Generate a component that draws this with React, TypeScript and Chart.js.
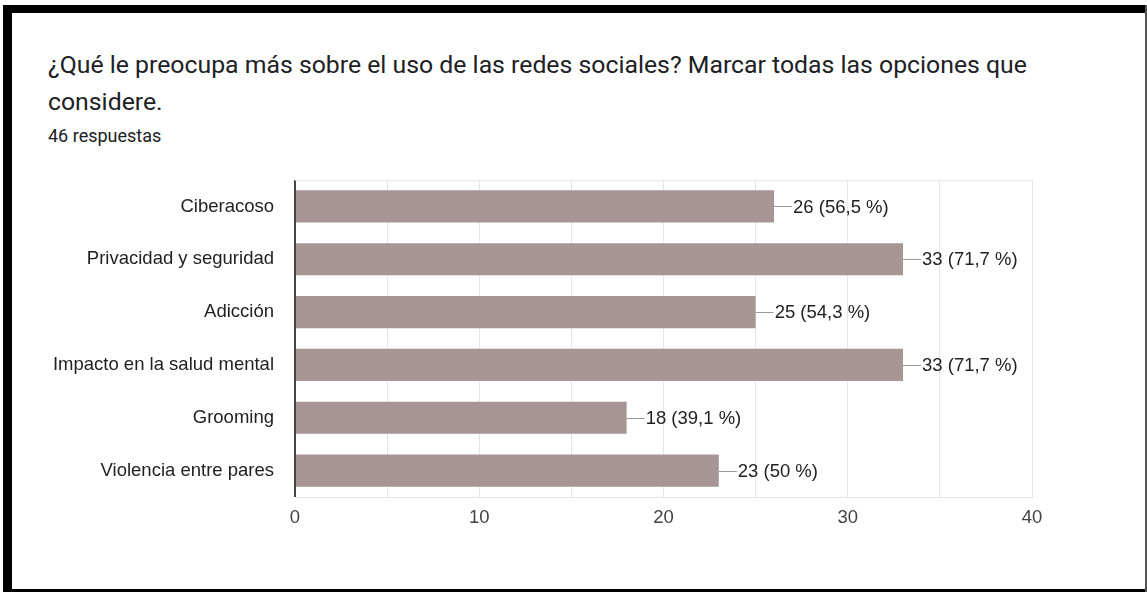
import React, { useEffect, useRef } from "react";
import { Chart, registerables } from "chart.js";

Chart.register(...registerables);

const categories = [
  "Ciberacoso",
  "Privacidad y seguridad",
  "Adicción",
  "Impacto en la salud mental",
  "Grooming",
  "Violencia entre pares",
];
const counts = [26, 33, 25, 33, 18, 23];
const percents = [56.5, 71.7, 54.3, 71.7, 39.1, 50];
const xTicks = [0, 10, 20, 30, 40];

const TITLE = "¿Qué le preocupa más sobre el uso de las redes sociales? Marcar todas las opciones que";
const TITLE2 = "considere.";
const SUBTITLE = "46 respuestas";

const FONT = "'Liberation Sans', Arial, sans-serif";

function fmtPct(p: number) {
  return String(p).replace(".", ",") + " %";
}

const valueLabelPlugin = {
  id: "valueLabels",
  beforeDatasetsDraw(chart: any) {
    const { ctx, chartArea } = chart;
    ctx.save();
    ctx.strokeStyle = "#e6e6e6";
    ctx.lineWidth = 1;
    ctx.beginPath();
    ctx.moveTo(chartArea.left, chartArea.top + 0.5);
    ctx.lineTo(chartArea.right, chartArea.top + 0.5);
    ctx.stroke();
    ctx.restore();
  },
  afterDatasetsDraw(chart: any) {
    const { ctx } = chart;
    const meta = chart.getDatasetMeta(0);
    ctx.save();
    meta.data.forEach((bar: any, i: number) => {
      const x = bar.x;
      const y = Math.round(bar.y) + 0.5;
      ctx.strokeStyle = "#9a9a9a";
      ctx.lineWidth = 1;
      ctx.beginPath();
      ctx.moveTo(x, y);
      ctx.lineTo(x + 18, y);
      ctx.stroke();
      ctx.fillStyle = "#222222";
      ctx.font = `18.5px ${FONT}`;
      ctx.textBaseline = "middle";
      ctx.textAlign = "left";
      ctx.fillText(`${counts[i]} (${fmtPct(percents[i])})`, x + 19, bar.y + 1);
    });
    ctx.restore();
  },
};

export default function App() {
  const canvasRef = useRef<HTMLCanvasElement | null>(null);

  useEffect(() => {
    if (!canvasRef.current) return;
    const chart = new Chart(canvasRef.current, {
      type: "bar",
      data: {
        labels: categories,
        datasets: [
          {
            data: counts,
            backgroundColor: "#a89595",
            borderWidth: 0,
            barPercentage: 1,
            categoryPercentage: 0.61,
          },
        ],
      },
      options: {
        indexAxis: "y",
        animation: false,
        responsive: false,
        maintainAspectRatio: false,
        layout: { padding: { top: 20, right: 115, left: 0, bottom: 0 } },
        plugins: {
          legend: { display: false },
          tooltip: { enabled: false },
          title: { display: false },
        },
        scales: {
          x: {
            min: xTicks[0],
            max: xTicks[xTicks.length - 1],
            ticks: {
              stepSize: 5,
              color: "#444444",
              font: { family: FONT, size: 18.5 },
              padding: 10,
              callback: (v: any) => (xTicks.includes(Number(v)) ? String(v) : ""),
              maxRotation: 0,
            },
            grid: {
              color: (c: any) => (c.tick && c.tick.value === 0 ? "#444444" : "#e6e6e6"),
              lineWidth: (c: any) => (c.tick && c.tick.value === 0 ? 2 : 1),
              drawTicks: false,
            },
            border: { color: "#e6e6e6", width: 1 },
            afterFit: (scale: any) => {
              scale.height = 63;
            },
          },
          y: {
            ticks: {
              color: "#222222",
              font: { family: FONT, size: 18.5 },
              padding: 21,
            },
            grid: { display: false, drawTicks: false },
            border: { display: false },
            afterFit: (scale: any) => {
              scale.width = 295;
              scale.paddingTop = 0;
              scale.paddingBottom = 0;
            },
          },
        },
      },
      plugins: [valueLabelPlugin],
    });
    return () => chart.destroy();
  }, []);

  return (
    <div
      style={{
        position: "fixed",
        left: 0,
        top: 0,
        width: 1147,
        height: 592,
        background: "#ffffff",
        overflow: "hidden",
      }}
    >
      <div style={{ position: "absolute", left: 3, top: 5, width: 1144, height: 8, background: "#000" }} />
      <div style={{ position: "absolute", left: 3, top: 5, width: 9, height: 587, background: "#000" }} />
      <div style={{ position: "absolute", left: 3, top: 589, width: 1144, height: 3, background: "#000" }} />
      <div style={{ position: "absolute", left: 1145, top: 5, width: 2, height: 587, background: "#555" }} />
      <div
        style={{
          position: "absolute",
          left: 48,
          top: 46,
          fontFamily: "Roboto, sans-serif",
          fontSize: 24.8,
          lineHeight: "37px",
          color: "#202124",
          whiteSpace: "nowrap",
        }}
      >
        {TITLE}
        <br />
        {TITLE2}
      </div>
      <div
        style={{
          position: "absolute",
          left: 48,
          top: 126,
          fontFamily: "Roboto, sans-serif",
          fontSize: 18,
          lineHeight: "20px",
          color: "#202124",
          whiteSpace: "nowrap",
        }}
      >
        {SUBTITLE}
      </div>
      <canvas
        ref={canvasRef}
        width={1147}
        height={400}
        style={{ position: "absolute", left: 0, top: 160, width: 1147, height: 400 }}
      />
    </div>
  );
}
